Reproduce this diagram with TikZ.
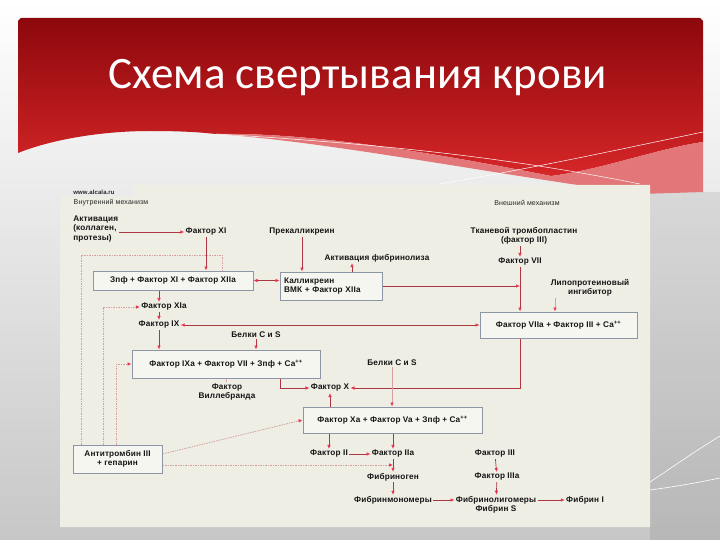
\documentclass[tikz,border=0pt]{standalone}
\usepackage{fontspec}
\setmainfont{Liberation Sans}
\newfontfamily\ttlfont{Carlito}
\newfontfamily\dgfont[LetterSpace=2]{Liberation Sans}
\usetikzlibrary{arrows.meta}
\definecolor{lnred}{RGB}{170,55,65}
\definecolor{tipred}{RGB}{232,52,78}
\definecolor{pale}{RGB}{212,160,166}
\definecolor{paper}{RGB}{238,238,228}
\definecolor{boxfill}{RGB}{246,246,240}
\definecolor{boxline}{RGB}{140,150,165}
\definecolor{hdtop}{RGB}{140,8,12}
\definecolor{hdbot}{RGB}{214,38,40}
\definecolor{hdpink}{RGB}{226,118,120}

\begin{document}
\begin{tikzpicture}[x=1pt, y=-1pt, line width=0.7pt,
  >={Latex[length=4pt,width=3.6pt,color=tipred]},
  lbl/.style={font=\dgfont\bfseries\fontsize{8.2}{9.2}\selectfont, text=black!92, inner sep=1pt, align=center},
  thn/.style={font=\dgfont\fontsize{7}{8}\selectfont, text=black!85, inner sep=1pt},
  box/.style={lbl, draw=boxline, fill=boxfill, line width=1pt, inner sep=2pt},
  arr/.style={draw=lnred, ->},
  dbl/.style={draw=lnred, <->},
  pl/.style={draw=pale, ->},
  dsh/.style={draw=pale, dash pattern=on 1.5pt off 1pt, line width=0.8pt}]
\useasboundingbox (0,0) rectangle (720,540);
% slide
\shade[top color=white, bottom color=black!22] (0,0) rectangle (720,540);
\fill[black, opacity=0.08] (650,192) rectangle (720,540);
\draw[white, line width=0.6pt] (650,482) .. controls (680,462) and (700,448) .. (720,436);
\draw[white, line width=0.6pt] (650,490) .. controls (680,486) and (700,482) .. (720,478);
% header
\shade[top color=hdtop, bottom color=hdbot] (18,21) -- (18,153) .. controls (50,140) and (100,131) .. (150,131)
    .. controls (190,131) and (205,133) .. (216,134) .. controls (320,132) and (460,158) .. (551,176)
    .. controls (600,170) and (660,148) .. (703,142) -- (703,21) -- (700,18) -- (21,18) -- cycle;
\fill[hdpink] (216,134) .. controls (320,132) and (460,158) .. (551,176) .. controls (600,170) and (660,148) .. (703,142)
    -- (703,192) -- (640,194) .. controls (480,172) and (330,142) .. (216,134) -- cycle;
\draw[white, line width=0.5pt] (216,134) .. controls (400,145) and (520,160) .. (640,184);
\draw[white, line width=0.5pt] (440,184) .. controls (550,165) and (640,145) .. (703,132);
\node[font=\ttlfont\fontsize{45}{50}\selectfont, text=white] (ttl) at (358,78) {Схема свертывания крови};
% scheme
\fill[paper] (60,197) -- (133,197) -- (133,185) -- (650,185) -- (650,527) -- (60,527) -- cycle;

\draw (173,280.5) node[box, minimum width=160pt, minimum height=19pt](b1){Зпф + Фактор XI + Фактор XIIa}
    (331,286) node[box, minimum width=102pt, minimum height=28pt, text width=94pt, align=left](b2){Калликреин\\ВМК + Фактор XIIa}
    (226,364) node[box, minimum width=188pt, minimum height=28pt](b3){Фактор IXa + Фактор VII + Зпф + Ca\textsuperscript{++}}
    (558.5,325) node[box, minimum width=157pt, minimum height=26pt](b4){Фактор VIIa + Фактор III + Ca\textsuperscript{++}}
    (392.5,420) node[box, minimum width=179pt, minimum height=26pt](b5){Фактор Xa + Фактор Va + Зпф + Ca\textsuperscript{++}}
    (117.5,459) node[box, minimum width=89pt, minimum height=28pt](atr){Антитромбин III\\+ гепарин};

\draw (94,192) node[thn, font=\dgfont\bfseries\fontsize{6}{7}\selectfont](www){www.alcala.ru}
    (111,203) node[thn](vnutr){Внутренний механизм}
    (527,203) node[thn](vnesh){Внешний механизм}
    (72,229) node[lbl, anchor=west, align=left](act){Активация\\(коллаген,\\протезы)}
    (206,232) node[lbl](f11){Фактор XI}
    (302,232) node[lbl](prek){Прекалликреин}
    (524,236) node[lbl](tkan){Тканевой тромбопластин\\(фактор III)}
    (377,258) node[lbl](fibrl){Активация фибринолиза}
    (520,262) node[lbl](f7){Фактор VII}
    (590,288) node[lbl](lipo){Липопротеиновый\\ингибитор}
    (164,307) node[lbl](f11a){Фактор XIa}
    (159,325) node[lbl](f9){Фактор IX}
    (256,335) node[lbl](bel1){Белки C и S}
    (392,363) node[lbl](bel2){Белки C и S}
    (227,392) node[lbl](vil){Фактор\\Виллебранда}
    (330,388) node[lbl](f10){Фактор X}
    (329,454) node[lbl](f2){Фактор II}
    (393,454) node[lbl](f2a){Фактор IIa}
    (495,454) node[lbl](f3){Фактор III}
    (393,477) node[lbl](fbg){Фибриноген}
    (497,477) node[lbl](f3a){Фактор IIIa}
    (393,500) node[lbl](fmon){Фибринмономеры}
    (496,504.5) node[lbl](folig){Фибринолигомеры\\Фибрин S}
    (585,500) node[lbl](fib1){Фибрин I};
\coordinate (d1) at (222,255);

% intrinsic
\draw [arr] (act.east |- f11) -- (f11);
\draw [arr] (f11.south) -- (f11.south |- b1.north);
\draw [arr] (prek) -- (prek |- b2.north);
\draw [arr] ([xshift=21pt]b2.north) -- ([xshift=21pt]b2.north |- fibrl.south);
\draw [dbl] (b1.east) -- (b1.east -| b2.west);
\draw [arr] (b1.south -| f9) -- (f11a.north -| f9);
\draw [arr] (f11a.south -| f9) -- (f9.north);
\draw [arr] (f9.south) -- (f9.south |- b3.north);
\draw [arr] (bel1.south) -- (bel1.south |- b3.north);
\draw [pale, double, line width=0.4pt] (vil.north) -- (vil.north |- b3.south);
\draw [arr] ([xshift=54pt]b3.south) |- (f10.west);
% extrinsic
\draw [arr] (b2.east) -- (b2.east -| f7);
\draw [arr] (f7 |- tkan.south) -- (f7.north);
\draw [arr] (f7.south) -- (f7.south |- b4.north);
\draw [pl] ([xshift=-35pt]lipo.south) -- ([xshift=-35pt]lipo.south |- b4.north);
\draw [dbl] (f9.east) -- (f9.east -| b4.west);
\draw [arr] (b4.south -| f7) |- (f10.east);
% common
\draw [arr] (b5.north -| f10) -- (f10.south);
\draw [pl] (bel2.south) -- (bel2.south |- b5.north);
\draw [arr] (b5.south -| f2) -- (f2.north);
\draw [arr] (b5.south -| f2a) -- (f2a.north);
\draw [arr] (f2) -- (f2a);
\draw [arr] (f2a) -- (fbg);
\draw [arr] (fbg) -- (fmon);
\draw [arr] (f3) -- (f3a);
\draw [arr] (f3a) -- (folig);
\draw [arr] (fmon.east) -- (fmon.east -| folig.west);
\draw [arr] (fib1.west -| folig.east) -- (fib1.west);
% antithrombin
\draw [dsh] ([xshift=-36.5pt]atr.north) |- (d1) -- (d1 |- b1.north);
\draw [dsh, ->] ([xshift=-14.5pt]atr.north) |- (f11a.west);
\draw [dsh, ->] ([xshift=-1.5pt]atr.north) |- (b3.west);
\draw [dsh, ->] ([yshift=5pt]atr.east) -- (b5.west);
\draw [dsh, ->] ([yshift=-6pt]atr.east) -- ([yshift=-6pt]atr.east -| f2a);
\end{tikzpicture}
\end{document}
